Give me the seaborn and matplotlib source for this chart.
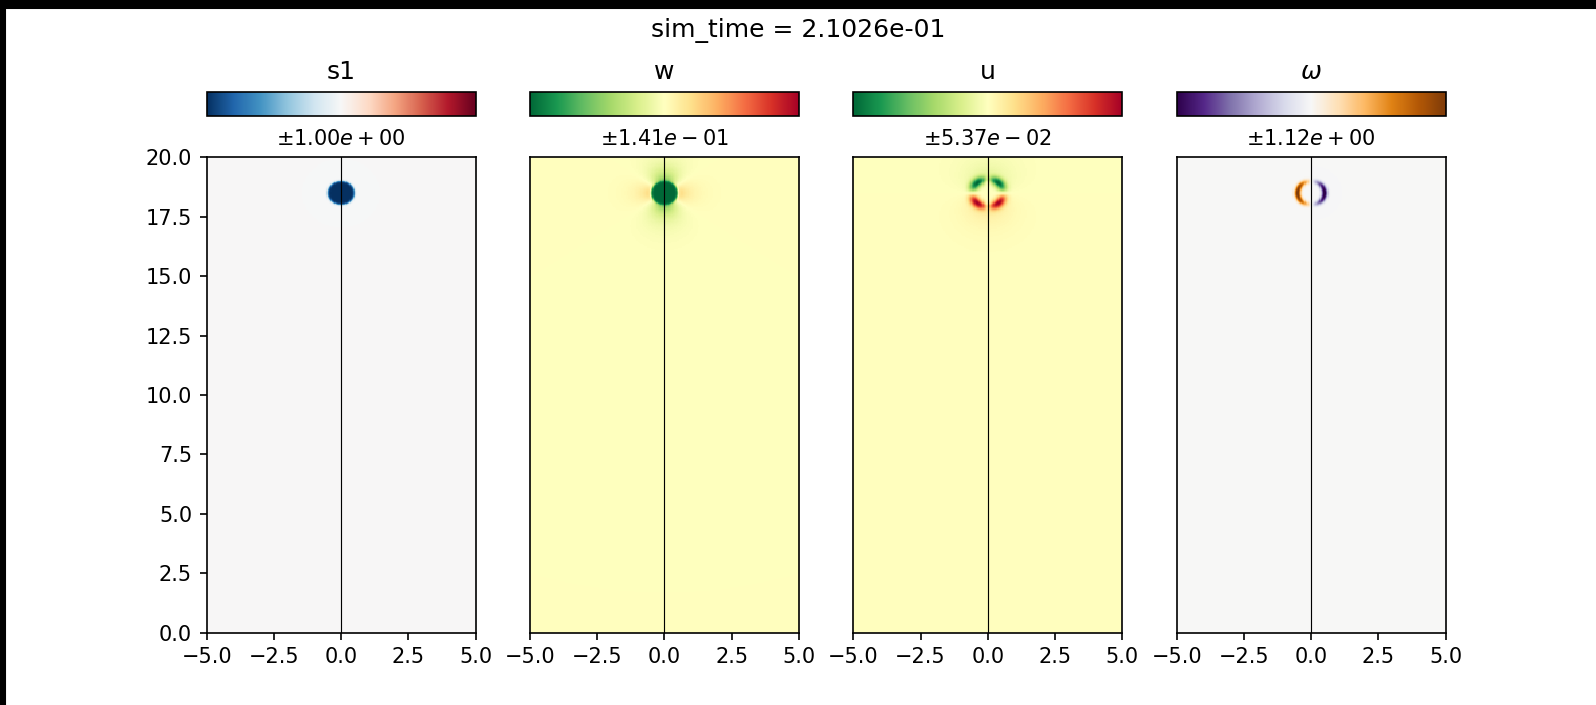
import numpy as np
import matplotlib
matplotlib.use("Agg")
import matplotlib.pyplot as plt
from matplotlib.patches import Rectangle
import seaborn as sns

# ---- snapshot description -------------------------------------------------
sim_time = 2.1026e-01
field_names = ["s1", "w", "u", r"$\omega$"]
field_cmaps = ["RdBu_r", "RdYlGn_r", "RdYlGn_r", "PuOr_r"]
field_amplitudes = [1.00e+00, 1.41e-01, 5.37e-02, 1.12e+00]

x_range = [-5.0, 5.0]
z_range = [0.0, 20.0]
x_ticks = [-5.0, -2.5, 0.0, 2.5, 5.0]
z_ticks = [0.0, 2.5, 5.0, 7.5, 10.0, 12.5, 15.0, 17.5, 20.0]

# sinking buoyant blob
blob_center = [0.0, 18.5]
blob_radius = 0.5

nx, nz = 200, 400

# ---- grid (row 0 is the top of the domain) --------------------------------
x_edges = np.linspace(x_range[0], x_range[1], nx + 1)
z_edges = np.linspace(z_range[1], z_range[0], nz + 1)
x = 0.5 * (x_edges[:-1] + x_edges[1:])
z = 0.5 * (z_edges[:-1] + z_edges[1:])
X, Z = np.meshgrid(x, z)
dx = X - blob_center[0]
dz = Z - blob_center[1]
r = np.hypot(dx, dz) + 1e-9
cos_t, sin_t = dx / r, dz / r
R = blob_radius

inside = 0.5 * (1.0 - np.tanh((r - R) / 0.05))
outside = 1.0 - inside

# buoyancy anomaly
s1 = -inside

# vertical velocity: core sinks, weak return flow around it
decay_w = np.exp(-np.clip(r - R, 0, None) / 0.45)
w = -inside + outside * decay_w * (-0.55 * sin_t**2 + 0.28 * cos_t**2)

# horizontal velocity: four lobes around the rim plus a faint halo
ring_u = np.exp(-((r - 1.15 * R) / 0.19) ** 2)
halo_u = outside * np.exp(-np.clip(r - R, 0, None) / 0.6)
u = -2.0 * sin_t * np.abs(cos_t) * ring_u - 0.25 * sin_t * halo_u

# vorticity: two crescents on the flanks
ring_o = np.exp(-((r - R) / 0.11) ** 2)
omega = -cos_t * ring_o

fields = [s1, w, u, omega]
fields = [f / np.abs(f).max() * a for f, a in zip(fields, field_amplitudes)]


def sci_label(a):
    mant, expo = f"{a:.2e}".split("e")
    sign = "+" if int(expo) >= 0 else "-"
    return rf"$\pm{mant}e{sign}{abs(int(expo)):02d}$"


def fmt(v):
    return f"{v:.1f}".replace("-", "\u2212")


# ---- figure ---------------------------------------------------------------
fig = plt.figure(figsize=(1596 / 150, 705 / 150), dpi=150)

left0, width, step = 0.1295, 0.1685, 0.2026
ax_bottom, ax_height = 0.1028, 0.674
cb_bottom, cb_height = 0.8355, 0.0345

for i, (field, name, cmap, amp) in enumerate(
        zip(fields, field_names, field_cmaps, field_amplitudes)):
    left = left0 + i * step
    ax = fig.add_axes([left, ax_bottom, width, ax_height])
    cax = fig.add_axes([left, cb_bottom, width, cb_height])

    sns.heatmap(field, ax=ax, cbar_ax=cax, cmap=cmap, vmin=-amp, vmax=amp,
                xticklabels=False, yticklabels=False, rasterized=True,
                cbar_kws={"orientation": "horizontal"})

    for sp in ax.spines.values():
        sp.set_visible(True)
        sp.set_color("black")
        sp.set_linewidth(0.8)

    xpos = [(v - x_range[0]) / (x_range[1] - x_range[0]) * nx for v in x_ticks]
    ax.set_xticks(xpos)
    ax.set_xticklabels([fmt(v) for v in x_ticks], rotation=0, fontsize=10)
    if i == 0:
        zpos = [(z_range[1] - v) / (z_range[1] - z_range[0]) * nz for v in z_ticks]
        ax.set_yticks(zpos)
        ax.set_yticklabels([fmt(v) for v in z_ticks], rotation=0, fontsize=10)
    else:
        ax.set_yticks([])
    ax.tick_params(direction="out", length=3.5, width=0.8, color="black",
                   bottom=True, left=(i == 0))

    x0_pos = (0.0 - x_range[0]) / (x_range[1] - x_range[0]) * nx
    ax.axvline(x0_pos, color="black", lw=0.55)
    ax.set_title(sci_label(amp), fontsize=10)

    cbar = ax.collections[0].colorbar
    cbar.outline.set_linewidth(0.8)
    cbar.outline.set_edgecolor("black")
    cax.set_xticks([])
    cax.set_yticks([])
    cax.set_title(name, fontsize=12)

fig.suptitle(f"sim_time = {sim_time:.4e}", y=0.957, va="center", fontsize=12)

# letterbox bars of the video frame
fig.add_artist(Rectangle((0, 1 - 8 / 705), 1, 8 / 705, transform=fig.transFigure,
                         color="black", zorder=20))
fig.add_artist(Rectangle((0, 0), 5 / 1596, 1, transform=fig.transFigure,
                         color="black", zorder=20))

fig.savefig("out.png", dpi=150)
